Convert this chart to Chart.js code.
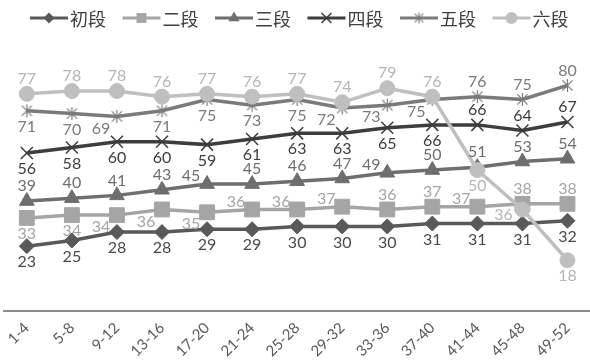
<!DOCTYPE html>
<html>
<head>
<meta charset="utf-8">
<script src="https://cdn.jsdelivr.net/npm/chart.js@4/dist/chart.umd.min.js"></script>
<style>
  html, body { margin: 0; padding: 0; background: #fff; }
  #wrap { width: 590px; height: 363px; position: relative; }
</style>
</head>
<body>
<div id="wrap"><canvas id="c"></canvas></div>
<script>
// Week ranges along the x axis
const weeks = ['1-4', '5-8', '9-12', '13-16', '17-20', '21-24', '25-28',
               '29-32', '33-36', '37-40', '41-44', '45-48', '49-52'];

// Values per grade
const seriesNames = ['初段', '二段', '三段', '四段', '五段', '六段'];
const dan1 = [23, 25, 28, 28, 29, 29, 30, 30, 30, 31, 31, 31, 32];
const dan2 = [33, 34, 34, 36, 35, 36, 36, 37, 36, 37, 37, 38, 38];
const dan3 = [39, 40, 41, 43, 45, 45, 46, 47, 49, 50, 51, 53, 54];
const dan4 = [56, 58, 60, 60, 59, 61, 63, 63, 65, 66, 66, 64, 67];
const dan5 = [71, 70, 69, 71, 75, 73, 75, 72, 73, 75, 76, 75, 80];
const dan6 = [77, 78, 78, 76, 77, 76, 77, 74, 79, 76, 50, 36, 18];

// Where each value label sits relative to its point:
// a = above, b = below, la = left-above, lb = left-below, l = left
const place1 = ['b','b','b','b','b','b','b','b','b','b','b','b','b'];
const place2 = ['b','b','lb','lb','lb','la','la','la','a','a','la','a','a'];
const place3 = ['a','a','a','a','la','a','a','a','la','a','a','a','a'];
const place4 = ['b','b','b','b','b','b','b','b','b','b','a','a','a'];
const place5 = ['b','b','lb','b','b','b','b','lb','lb','lb','a','a','a'];
const place6 = ['a','a','a','a','a','a','a','a','a','a','b','l','b'];

const OFFSETS = {
  a:  [0, -15],
  b:  [0, 16],
  la: [-16, -8],
  lb: [-16, 12],
  l:  [-19, 5]
};

// Asterisk-style marker: an X crossed by a vertical stroke
function makeStar(color, size, lw) {
  const c = document.createElement('canvas');
  c.width = size; c.height = size;
  const g = c.getContext('2d');
  g.strokeStyle = color;
  g.lineWidth = lw;
  const h = size / 2, r = size / 2 - 1, d = r * 0.78;
  g.beginPath();
  g.moveTo(h - d, h - d); g.lineTo(h + d, h + d);
  g.moveTo(h + d, h - d); g.lineTo(h - d, h + d);
  g.moveTo(h, h - r); g.lineTo(h, h + r);
  g.stroke();
  return c;
}

const starBig = makeStar('#7a7a7a', 15, 1.2);
const starSmall = makeStar('#7a7a7a', 13, 1.1);

const styles = [
  { color: '#595959', text: '#4a4a4a', point: 'rectRot',  r: 7.5,  lr: 5.5, bw: 1,   place: place1, data: dan1 },
  { color: '#a5a5a5', text: '#a5a5a5', point: 'rect',     r: 10.5, lr: 7,   bw: 1,   place: place2, data: dan2 },
  { color: '#6e6e6e', text: '#6e6e6e', point: 'triangle', r: 8.5,  lr: 6.5, bw: 1,   place: place3, data: dan3 },
  { color: '#3d3d3d', text: '#3d3d3d', point: 'crossRot', r: 8.5,  lr: 7,   bw: 1.5, place: place4, data: dan4 },
  { color: '#7a7a7a', text: '#7a7a7a', point: starBig,    r: 7.5,  lr: 6,   bw: 1,   place: place5, data: dan5, legendImg: starSmall },
  { color: '#bfbfbf', text: '#b5b5b5', point: 'circle',   r: 7.5,  lr: 6,   bw: 1,   place: place6, data: dan6 }
];

const datasets = styles.map((s, i) => ({
  label: seriesNames[i],
  data: s.data,
  borderColor: s.color,
  backgroundColor: s.color,
  borderWidth: 3.5,
  tension: 0,
  pointStyle: s.point,
  pointRadius: s.r,
  pointHoverRadius: s.r,
  pointBackgroundColor: s.color,
  pointBorderColor: s.color,
  pointBorderWidth: s.bw,
  clip: false,
  order: 6 - i,
  labelPlace: s.place,
  labelColor: s.text,
  legendRadius: s.lr,
  legendImg: s.legendImg
}));

function drawMarker(ctx, style, x, y, r, color, bw, img) {
  ctx.save();
  ctx.fillStyle = color;
  ctx.strokeStyle = color;
  ctx.lineWidth = bw;
  if (img) {
    ctx.drawImage(img, x - img.width / 2, y - img.height / 2);
    ctx.restore();
    return;
  }
  ctx.beginPath();
  if (style === 'rectRot') {
    ctx.moveTo(x, y - r); ctx.lineTo(x + r, y); ctx.lineTo(x, y + r); ctx.lineTo(x - r, y);
    ctx.closePath(); ctx.fill();
  } else if (style === 'rect') {
    const s = r * Math.SQRT1_2;
    ctx.rect(x - s, y - s, 2 * s, 2 * s); ctx.fill();
  } else if (style === 'triangle') {
    ctx.moveTo(x, y - r);
    ctx.lineTo(x + r * 0.866, y + r * 0.5);
    ctx.lineTo(x - r * 0.866, y + r * 0.5);
    ctx.closePath(); ctx.fill();
  } else if (style === 'crossRot') {
    const d = r * Math.SQRT1_2;
    ctx.moveTo(x - d, y - d); ctx.lineTo(x + d, y + d);
    ctx.moveTo(x + d, y - d); ctx.lineTo(x - d, y + d);
    ctx.stroke();
  } else if (style === 'circle') {
    ctx.arc(x, y, r, 0, Math.PI * 2); ctx.fill();
  }
  ctx.restore();
}

// Legend row across the top: line segment with marker, then the grade name
const seriesLegend = {
  id: 'seriesLegend',
  afterDraw(chart) {
    const ctx = chart.ctx;
    const ds = chart.data.datasets;
    ctx.save();
    ctx.font = '18px "Noto Sans CJK SC"';
    ctx.textBaseline = 'middle';
    ctx.textAlign = 'left';
    const lineLen = 38, gap = 2, pitch = 92.5, y = 18;
    let x = 30;
    ds.forEach((d) => {
      ctx.strokeStyle = d.borderColor;
      ctx.lineWidth = 3;
      ctx.beginPath();
      ctx.moveTo(x, y);
      ctx.lineTo(x + lineLen, y);
      ctx.stroke();
      drawMarker(ctx, d.pointStyle, x + lineLen / 2, y, d.legendRadius,
                 d.borderColor, d.pointBorderWidth, d.legendImg);
      ctx.fillStyle = '#3f3f3f';
      ctx.fillText(d.label, x + lineLen + gap, y + 1);
      x += pitch;
    });
    ctx.restore();
  }
};

// Value labels next to every point
const valueLabels = {
  id: 'valueLabels',
  afterDatasetsDraw(chart) {
    const ctx = chart.ctx;
    ctx.save();
    ctx.font = '16px Lato';
    ctx.textAlign = 'center';
    ctx.textBaseline = 'middle';
    chart.data.datasets.forEach((d, i) => {
      const meta = chart.getDatasetMeta(i);
      ctx.fillStyle = d.labelColor;
      meta.data.forEach((pt, j) => {
        const off = OFFSETS[d.labelPlace[j]];
        ctx.fillText(String(d.data[j]), pt.x + off[0], pt.y + off[1]);
      });
    });
    ctx.restore();
  }
};

new Chart(document.getElementById('c'), {
  type: 'line',
  data: { labels: weeks, datasets },
  options: {
    responsive: true,
    maintainAspectRatio: false,
    animation: false,
    events: [],
    layout: { autoPadding: false, padding: { top: 29, left: 4.3, right: -4.7, bottom: 0 } },
    plugins: {
      legend: { display: false },
      tooltip: { enabled: false }
    },
    scales: {
      y: { display: false, min: 0, max: 100 },
      x: {
        offset: true,
        grid: { display: false, drawTicks: false },
        border: { display: true, color: '#8c8c8c', width: 2 },
        ticks: {
          color: '#595959',
          font: { family: 'Lato', size: 15 },
          minRotation: 45,
          maxRotation: 45,
          padding: 8,
          autoSkip: false
        },
        afterFit(scale) { scale.height = 52; }
      }
    }
  },
  plugins: [seriesLegend, valueLabels]
});
</script>
</body>
</html>
